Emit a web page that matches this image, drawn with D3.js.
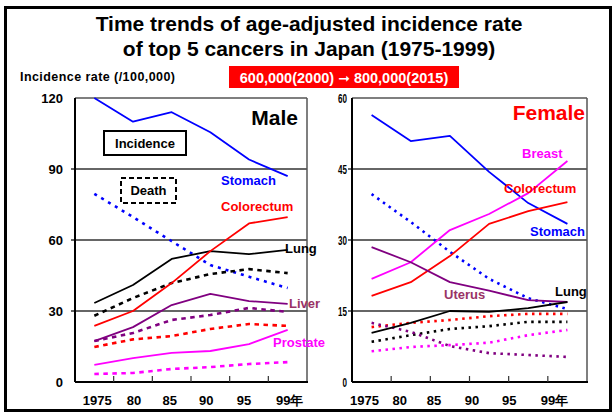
<!DOCTYPE html>
<html><head><meta charset="utf-8">
<script src="https://cdn.jsdelivr.net/npm/d3@7"></script>
<style>
body{margin:0;background:#fff;}
svg{display:block;font-family:"Liberation Sans",Arial,sans-serif;}
</style></head><body>
<svg id="c" width="613" height="413"></svg>
<script>
// ---- data ----
const years = ["1975","80","85","90","95","99年"];
const maleTicks = [0,30,60,90,120];
const femaleTicks = [0,15,30,45,60];

const maleStomachInc   = [120, 110, 114, 105.5, 94, 87];
const maleStomachDeath = [79.5, 69.7, 59.5, 49.4, 44.5, 39.7];
const maleColorInc     = [23.7, 30, 41.8, 55.3, 67, 69.7];
const maleColorDeath   = [14.8, 18.0, 19.4, 22.4, 24.5, 23.7];
const maleLungInc      = [33.4, 41, 52, 55.3, 54, 55.8];
const maleLungDeath    = [28, 35.5, 41.8, 45.6, 47.7, 46];
const maleLiverInc     = [17.3, 23.2, 32.5, 37.2, 34.2, 33];
const maleLiverDeath   = [17.3, 20.7, 26.2, 28.3, 31.3, 29.6];
const maleProstateInc  = [7.2, 10.1, 12.3, 13.1, 16, 22];
const maleProstateDeath= [3.4, 3.8, 5.5, 6.3, 7.6, 8.4];

const femStomachInc    = [56.4, 50.9, 52, 44.4, 37.8, 33.4];
const femStomachDeath  = [39.7, 33.8, 27.5, 21.8, 17.7, 15.4];
const femBreastInc     = [21.8, 25.3, 32.1, 35.5, 39.9, 46.7];
const femBreastDeath   = [6.5, 7.4, 7.8, 8.3, 9.9, 11];
const femColorInc      = [18.2, 21.1, 26.6, 33.4, 36.1, 38];
const femColorDeath    = [11.6, 12.5, 13.1, 13.9, 14.4, 14.4];
const femUterusInc     = [28.5, 25.3, 21.1, 19.3, 17.3, 16.9];
const femUterusDeath   = [12.5, 10.6, 7.6, 6.1, 5.7, 5.3];
const femLungInc       = [10.4, 12.5, 15, 14.8, 15.6, 16.9];
const femLungDeath     = [8.5, 9.9, 11.2, 11.8, 12.7, 12.7];

const C = {blue:"#0000ff", red:"#ff0000", black:"#000000", purple:"#800080", magenta:"#ff00ff", labPurple:"#993366"};

const svg = d3.select("#c");

// outer frame
svg.append("rect").attr("x",5.5).attr("y",7.5).attr("width",605).attr("height",403)
  .attr("fill","none").attr("stroke","#000").attr("stroke-width",3);

// title
svg.append("text").attr("x",309).attr("y",31).attr("text-anchor","middle")
  .attr("font-size",21).attr("font-weight","bold").text("Time trends of age-adjusted incidence rate");
svg.append("text").attr("x",309).attr("y",56).attr("text-anchor","middle")
  .attr("font-size",21).attr("font-weight","bold").text("of top 5 cancers in Japan (1975-1999)");

svg.append("text").attr("x",20).attr("y",81).attr("font-size",12.5).attr("font-weight","bold")
  .attr("textLength",155).attr("lengthAdjust","spacing")
  .text("Incidence rate (/100,000)");

svg.append("rect").attr("x",229).attr("y",66).attr("width",230).attr("height",22).attr("fill","#ff0000");
const bt = svg.append("text").attr("x",344).attr("y",82.5).attr("text-anchor","middle").attr("fill","#fff")
  .attr("font-size",14.5).attr("font-weight","bold");
bt.append("tspan").text("600,000(2000) ");
bt.append("tspan").attr("font-family","DejaVu Sans").attr("font-size",14).text("➞");
bt.append("tspan").text(" 800,000(2015)");

function panel(opt){
  const g = svg.append("g");
  const x = d3.scaleBand().domain(years).range([opt.x0, opt.x1]);
  const y = d3.scaleLinear().domain([0, opt.max]).range([382, 98]);
  const cx = d => x(d) + x.bandwidth()/2;

  // gridlines
  g.selectAll("line.grid").data(opt.ticks.slice(1,-1)).join("line")
    .attr("x1",opt.x0-4).attr("x2",opt.x1).attr("y1",d=>y(d)).attr("y2",d=>y(d))
    .attr("stroke","#333").attr("stroke-width",1.5);
  // top & right frame
  g.append("line").attr("x1",opt.x0).attr("x2",opt.x1).attr("y1",y(opt.max)).attr("y2",y(opt.max))
    .attr("stroke","#555").attr("stroke-width",1.3);
  g.append("line").attr("x1",opt.x1).attr("x2",opt.x1).attr("y1",y(opt.max)).attr("y2",y(0))
    .attr("stroke","#555").attr("stroke-width",1.5);

  // series
  const line = d3.line().x((d,i)=>cx(years[i])).y(d=>y(d));
  opt.series.forEach(s=>{
    g.append("path").attr("d",line(s.v)).attr("fill","none").attr("stroke",s.c)
      .attr("stroke-width",s.dash? 2.6 : 1.8).attr("stroke-dasharray",s.dash||null)
      .attr("stroke-linejoin","round");
  });

  // axes
  g.append("line").attr("x1",opt.x0).attr("x2",opt.x0).attr("y1",y(opt.max)).attr("y2",y(0))
    .attr("stroke","#000").attr("stroke-width",2);
  g.append("line").attr("x1",opt.x0).attr("x2",opt.x1+1).attr("y1",y(0)).attr("y2",y(0))
    .attr("stroke","#000").attr("stroke-width",2);
  // x ticks at band boundaries
  g.selectAll("line.xt").data(years.slice(1)).join("line")
    .attr("x1",d=>x(d)).attr("x2",d=>x(d)).attr("y1",y(0)).attr("y2",y(0)-6)
    .attr("stroke","#333").attr("stroke-width",1.2);
  // x labels
  g.selectAll("text.xl").data(years).join("text")
    .attr("x",(d,i)=>cx(d)+opt.xlOff[i]).attr("y",405).attr("text-anchor","middle")
    .attr("font-size",13).attr("font-weight","bold").text(d=>d);
  // y labels
  g.selectAll("text.yl").data(opt.ticks).join("text")
    .attr("transform",d=>`translate(${opt.ylx},${y(d)+opt.yly}) scale(${opt.ysx},1)`)
    .attr("text-anchor","end").attr("font-size",opt.yfs).attr("font-weight","bold").text(d=>d);

  // labels
  opt.labels.forEach(l=>{
    g.append("text").attr("x",l.x).attr("y",l.y).attr("text-anchor",l.a||"start")
      .attr("font-size",l.fs||13).attr("font-weight","bold").attr("fill",l.c).text(l.t);
  });
  return {x,y};
}

const dashM = "4.5,4.5", dotB = "3,5", dotF = "2.5,4.5";

panel({x0:75, x1:307, max:120, ticks:maleTicks, ylx:63, yly:5, ysx:1, yfs:13,
  xlOff:[3,1,-2,-4,-5,2],
  series:[
    {v:maleStomachDeath, c:C.blue, dash:dotB},
    {v:maleLungDeath, c:C.black, dash:dashM},
    {v:maleColorDeath, c:C.red, dash:dashM},
    {v:maleLiverDeath, c:C.purple, dash:dashM},
    {v:maleProstateDeath, c:C.magenta, dash:dashM},
    {v:maleStomachInc, c:C.blue},
    {v:maleLungInc, c:C.black},
    {v:maleColorInc, c:C.red},
    {v:maleLiverInc, c:C.purple},
    {v:maleProstateInc, c:C.magenta}
  ],
  labels:[
    {t:"Male", x:298, y:125, a:"end", fs:21, c:"#000"},
    {t:"Stomach", x:221, y:185, c:C.blue},
    {t:"Colorectum", x:221, y:211, c:C.red},
    {t:"Lung", x:285, y:253, c:"#000"},
    {t:"Liver", x:289, y:308, c:C.labPurple},
    {t:"Prostate", x:273, y:347, c:C.magenta}
  ]});

panel({x0:352, x1:587, max:60, ticks:femaleTicks, ylx:347, yly:4.5, ysx:0.62, yfs:13,
  xlOff:[-7,-11,-16,-17,-19,-13],
  series:[
    {v:femStomachDeath, c:C.blue, dash:dotF},
    {v:femLungDeath, c:C.black, dash:dotF},
    {v:femColorDeath, c:C.red, dash:dotF},
    {v:femUterusDeath, c:C.purple, dash:dotF},
    {v:femBreastDeath, c:C.magenta, dash:dotF},
    {v:femStomachInc, c:C.blue},
    {v:femColorInc, c:C.red},
    {v:femBreastInc, c:C.magenta},
    {v:femUterusInc, c:C.purple},
    {v:femLungInc, c:C.black}
  ],
  labels:[
    {t:"Female", x:585, y:120, a:"end", fs:21, c:C.red},
    {t:"Breast", x:522, y:158, c:C.magenta},
    {t:"Colorectum", x:504, y:193, c:C.red},
    {t:"Stomach", x:530, y:236, c:C.blue},
    {t:"Uterus", x:444, y:299, c:C.labPurple},
    {t:"Lung", x:555, y:296, c:"#000"}
  ]});

// legend boxes
svg.append("rect").attr("x",104).attr("y",131).attr("width",82).attr("height",24)
  .attr("fill","#fff").attr("stroke","#000").attr("stroke-width",2);
svg.append("text").attr("x",145).attr("y",148).attr("text-anchor","middle")
  .attr("font-size",13).attr("font-weight","bold").text("Incidence");
svg.append("rect").attr("x",121).attr("y",178).attr("width",55).attr("height",25)
  .attr("fill","#fff").attr("stroke","#000").attr("stroke-width",2).attr("stroke-dasharray","5,3");
svg.append("text").attr("x",148.5).attr("y",195).attr("text-anchor","middle")
  .attr("font-size",13).attr("font-weight","bold").text("Death");
</script>
</body></html>
